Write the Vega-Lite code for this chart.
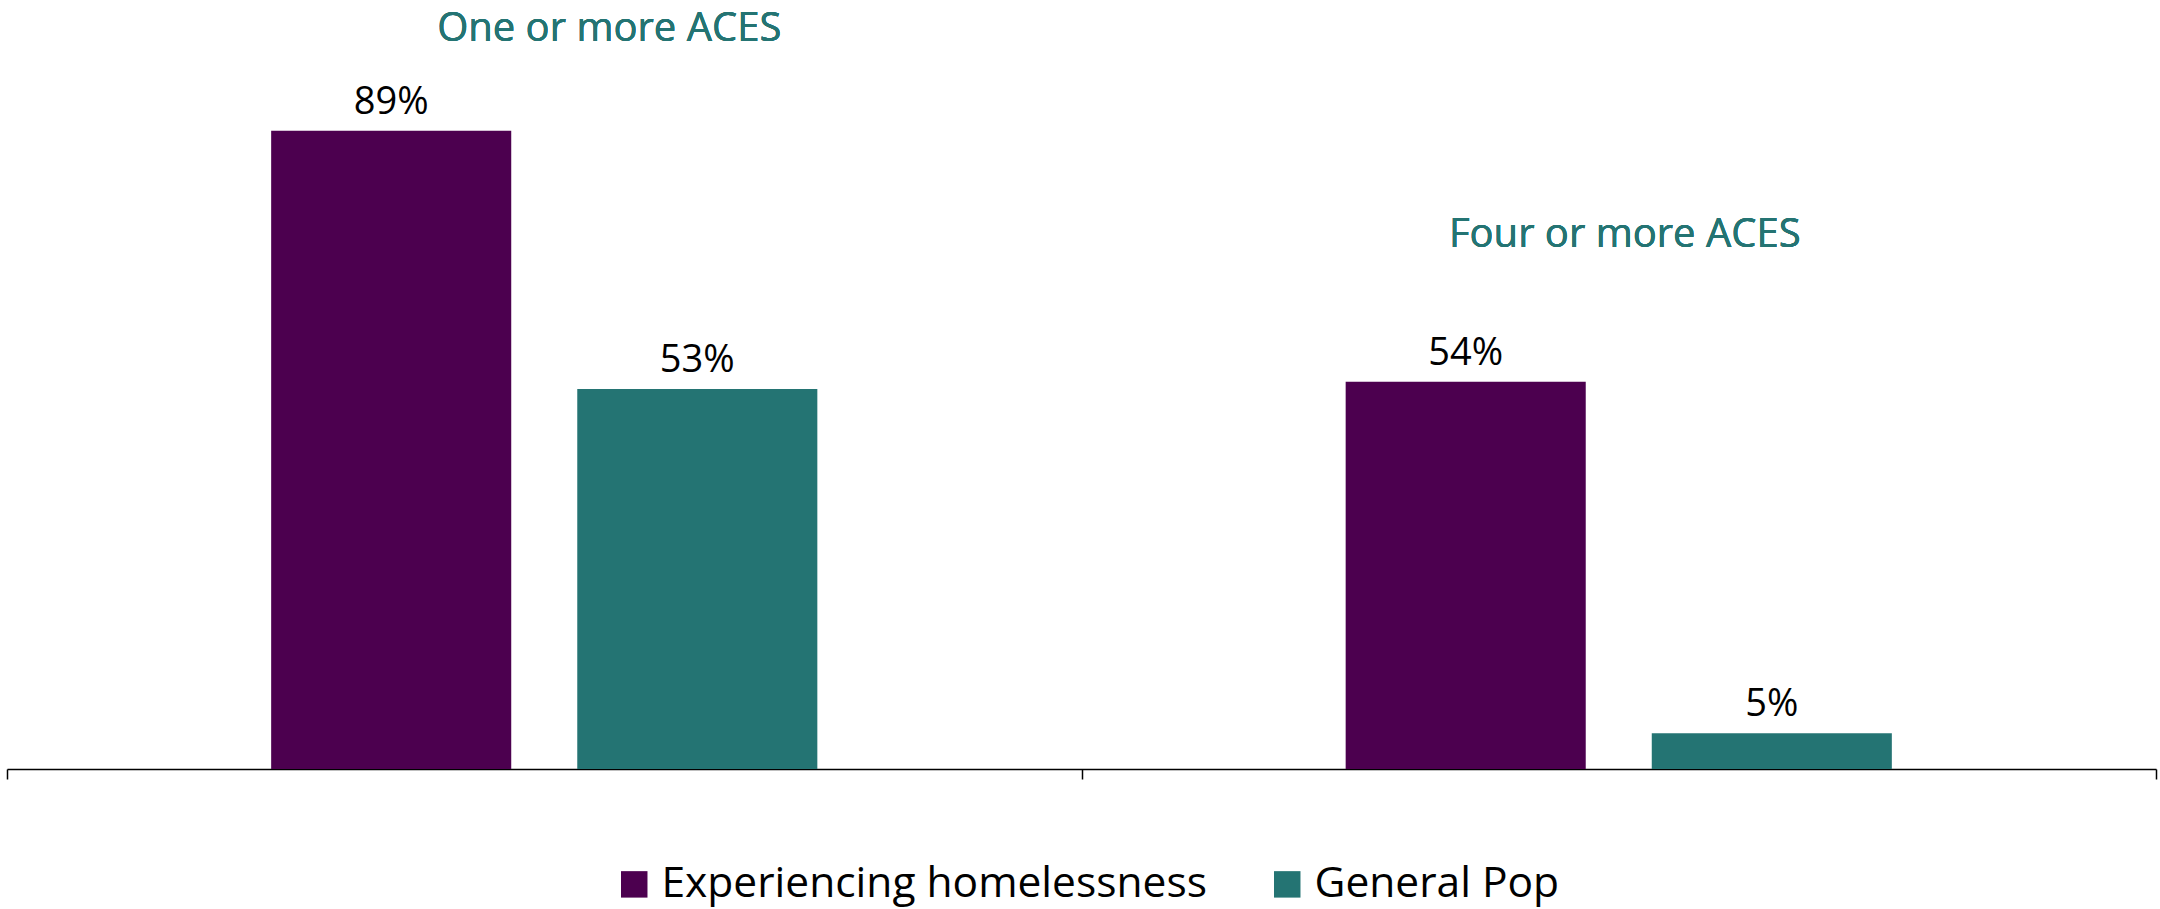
{
  "$schema": "https://vega.github.io/schema/vega-lite/v6.json",
  "width": 2149,
  "height": 717,
  "autosize": {"type": "none"},
  "padding": {"left": 7, "top": 52, "right": 4, "bottom": 140},
  "background": "white",
  "config": {
    "view": {"stroke": null},
    "font": "Open Sans"
  },
  "data": {
    "values": [
      {"group": "One or more ACES", "series": "Experiencing homelessness", "value": 0.89},
      {"group": "One or more ACES", "series": "General Pop", "value": 0.53},
      {"group": "Four or more ACES", "series": "Experiencing homelessness", "value": 0.54},
      {"group": "Four or more ACES", "series": "General Pop", "value": 0.05}
    ]
  },
  "encoding": {
    "x": {
      "field": "group",
      "type": "nominal",
      "sort": ["One or more ACES", "Four or more ACES"],
      "scale": {"paddingInner": 0, "paddingOuter": 0},
      "axis": {
        "title": null,
        "labels": false,
        "tickBand": "extent",
        "domainColor": "#000000",
        "domainWidth": 1.5,
        "tickColor": "#000000",
        "tickWidth": 1.5,
        "tickSize": 10,
        "grid": false
      }
    },
    "xOffset": {
      "field": "series",
      "type": "nominal",
      "sort": ["Experiencing homelessness", "General Pop"],
      "scale": {"paddingInner": 0.2157, "paddingOuter": 0.863}
    },
    "y": {
      "field": "value",
      "type": "quantitative",
      "scale": {"domain": [0, 1]},
      "axis": null
    }
  },
  "layer": [
    {
      "mark": {"type": "bar"},
      "encoding": {
        "color": {
          "field": "series",
          "type": "nominal",
          "sort": ["Experiencing homelessness", "General Pop"],
          "scale": {"domain": ["Experiencing homelessness", "General Pop"], "range": ["#4c004f", "#247473"]},
          "legend": {
            "title": null,
            "orient": "none",
            "direction": "horizontal",
            "legendX": 606,
            "legendY": 811,
            "symbolType": "square",
            "symbolSize": 700,
            "symbolStrokeWidth": 0,
            "symbolOpacity": 1,
            "labelFontSize": 42.5,
            "labelFont": "Open Sans",
            "labelColor": "#000000",
            "labelOffset": 6,
            "columnPadding": 59,
            "labelLimit": 1000
          }
        }
      }
    },
    {
      "mark": {"type": "text", "baseline": "alphabetic", "dy": -17, "fontSize": 38, "color": "#000000"},
      "encoding": {
        "text": {"field": "value", "type": "quantitative", "format": ".0%"}
      }
    },
    {
      "mark": {"type": "text", "baseline": "alphabetic", "dx": 65, "fontSize": 40, "color": "#247473"},
      "encoding": {
        "x": {"datum": "One or more ACES", "type": "nominal"},
        "xOffset": null,
        "y": {"datum": 1.016, "type": "quantitative"},
        "text": {"value": "One or more ACES"}
      }
    },
    {
      "mark": {"type": "text", "baseline": "alphabetic", "dx": 6, "fontSize": 40, "color": "#247473"},
      "encoding": {
        "x": {"datum": "Four or more ACES", "type": "nominal"},
        "xOffset": null,
        "y": {"datum": 0.728, "type": "quantitative"},
        "text": {"value": "Four or more ACES"}
      }
    }
  ]
}
